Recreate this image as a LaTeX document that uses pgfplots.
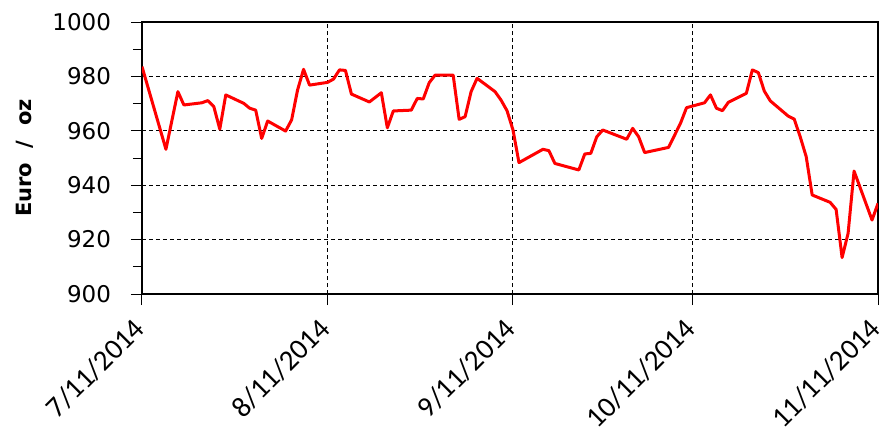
\documentclass[border=0pt]{standalone}
\usepackage{pgfplots}
\pgfplotsset{compat=1.18}
\usepackage{fontspec}
\setmainfont{DejaVu Sans}
\newfontfamily\xlabfont{Carlito}
\begin{document}
\begin{tikzpicture}
\begin{axis}[
  scale only axis,
  width=368pt, height=136pt,
  xmin=0, xmax=123, ymin=900, ymax=1000,
  xtick={0,31,62,92,123},
  xticklabels={7/11/2014,8/11/2014,9/11/2014,10/11/2014,11/11/2014},
  xticklabel style={xshift=-5pt, yshift=-4pt, rotate=45, anchor=north east, font=\xlabfont\fontsize{14.5}{16}\selectfont, inner sep=1pt},
  ytick={900,920,...,1000},
  minor ytick={910,930,...,990},
  yticklabel style={font=\fontsize{11.5}{13}\selectfont, xshift=-6.5pt},
  /pgf/number format/assume math mode=true,
  /pgf/number format/1000 sep={},
  tick align=outside,
  major tick length=5.5pt,
  minor tick length=4.5pt,
  tick style={black, line width=0.5pt},
  xtick pos=bottom, ytick pos=left,
  xmajorgrids, ymajorgrids,
  major grid style={black, line width=0.5pt, dash pattern=on 2pt off 1.5pt},
  axis line style={black, line width=1pt},
  ylabel={\textbf{Euro\ \ /\ \ oz}},
  every axis y label/.style={at={(rel axis cs:0,0.5)}, xshift=-58.5pt, rotate=90, anchor=center, font=\fontsize{10.5}{12}\selectfont},
]
\addplot[red, line width=1.5pt, line join=round] coordinates {
(0,983.6) (4,953.2) (6,974.4) (7,969.5) (10,970.3) (11,971.1) (12,968.9) (13,960.6)
(14,973.2) (17,970.1) (18,968.3) (19,967.6) (20,957.2) (21,963.6) (24,959.9) (25,964)
(26,975) (27,982.6) (28,976.8) (31,977.8) (32,979) (33,982.4) (34,982.2) (35,973.5)
(38,970.6) (40,974) (41,961.1) (42,967.3) (45,967.6) (46,971.9) (47,971.7) (48,977.7)
(49,980.5) (52,980.5) (53,964.2) (54,965.2) (55,974.4) (56,979.3) (59,974.4) (60,971.3)
(61,967.4) (62,960.3) (63,948.3) (67,953.2) (68,952.7) (69,948) (73,945.6) (74,951.5)
(75,951.7) (76,957.8) (77,960.3) (81,956.9) (82,960.9) (83,957.8) (84,952) (88,953.9)
(90,962.8) (91,968.5) (94,970.3) (95,973.2) (96,968.3) (97,967.4) (98,970.5) (101,973.8)
(102,982.4) (103,981.4) (104,974.6) (105,971.0) (108,965.4) (109,964.3) (110,957.8) (111,950.5)
(112,936.4) (115,933.7) (116,931.1) (117,913.4) (118,922.3) (119,945.2) (122,927.2) (123,933.3)
};
\end{axis}
\pgfresetboundingbox
\path[use as bounding box] (-71pt,-70.5pt) rectangle (373pt,147pt);
\end{tikzpicture}
\end{document}
